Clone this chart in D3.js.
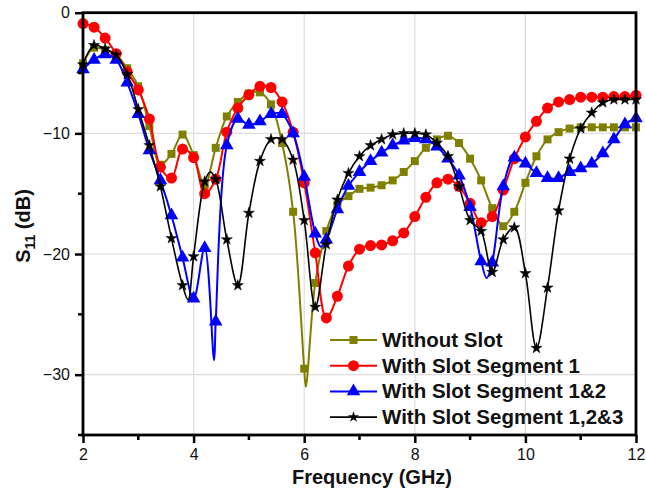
<!DOCTYPE html>
<html><head><meta charset="utf-8">
<script src="https://cdn.jsdelivr.net/npm/d3@7"></script>
<style>body{margin:0;background:#fff}svg{display:block}</style>
</head><body><svg id="c" width="646" height="500"></svg>
<script>
// ---- data ----
const xTicks = [2,4,6,8,10,12];
const yTicks = [0,-10,-20,-30];
const seriesNames = ["Without Slot","With Slot Segment 1","With Slot Segment 1&2","With Slot Segment 1,2&3"];
const seriesColors = ["#808000","#ff0000","#0000ff","#000000"];

const withoutSlotF = [2.0,2.2,2.4,2.6,2.8,3.0,3.2,3.4,3.6,3.8,4.0,4.2,4.4,4.6,4.8,5.0,5.2,5.4,5.6,5.8,6.0,6.03,6.2,6.4,6.6,6.8,7.0,7.2,7.4,7.6,7.8,8.0,8.2,8.4,8.6,8.8,9.0,9.2,9.4,9.6,9.8,10.0,10.2,10.4,10.6,10.8,11.0,11.2,11.4,11.6,11.8,12.0];
const withoutSlotV = [-4.2,-2.9,-3.1,-3.5,-4.6,-6.1,-9.4,-12.6,-11.7,-10.1,-11.8,-14.3,-11.2,-8.6,-7.4,-6.7,-6.6,-7.6,-10.8,-16.5,-29.5,-31.0,-22.4,-18.1,-15.9,-15.2,-14.6,-14.5,-14.3,-13.9,-13.2,-12.3,-11.2,-10.5,-10.2,-10.8,-12.1,-13.9,-16.2,-17.7,-16.5,-14.1,-11.9,-10.5,-9.9,-9.6,-9.5,-9.5,-9.5,-9.5,-9.5,-9.5];

const seg1F = [2.0,2.2,2.4,2.6,2.8,3.0,3.2,3.4,3.6,3.8,4.0,4.2,4.4,4.6,4.8,5.0,5.2,5.4,5.6,5.8,6.0,6.2,6.4,6.6,6.8,7.0,7.2,7.4,7.6,7.8,8.0,8.2,8.4,8.6,8.8,9.0,9.2,9.4,9.6,9.8,10.0,10.2,10.4,10.6,10.8,11.0,11.2,11.4,11.6,11.8,12.0];
const seg1V = [-0.9,-1.2,-2.1,-3.4,-4.9,-6.4,-8.8,-12.8,-13.7,-11.3,-12.0,-15.0,-13.8,-9.9,-7.9,-6.8,-6.1,-6.2,-7.4,-9.9,-14.1,-19.9,-25.3,-23.5,-21.0,-19.6,-19.3,-19.25,-18.9,-18.25,-16.9,-15.3,-14.1,-13.8,-14.4,-15.8,-17.4,-16.9,-14.7,-12.1,-10.3,-9.0,-7.9,-7.4,-7.2,-7.0,-7.0,-7.0,-6.95,-6.95,-6.85];

const seg12F = [2.0,2.2,2.4,2.6,2.8,3.0,3.2,3.4,3.6,3.8,4.0,4.2,4.37,4.4,4.6,4.8,5.0,5.2,5.4,5.6,5.8,6.0,6.2,6.3,6.4,6.6,6.8,7.0,7.2,7.4,7.6,7.8,8.0,8.2,8.4,8.6,8.8,9.0,9.2,9.3,9.4,9.6,9.8,10.0,10.2,10.4,10.6,10.8,11.0,11.2,11.4,11.6,11.8,12.0];
const seg12V = [-4.7,-3.9,-3.45,-3.9,-5.8,-8.4,-11.4,-13.9,-16.8,-20.3,-23.7,-19.5,-28.8,-25.6,-11.0,-8.8,-9.3,-9.0,-8.4,-8.4,-10.0,-13.6,-18.3,-19.4,-18.8,-16.3,-14.35,-13.2,-12.3,-11.6,-11.0,-10.6,-10.4,-10.5,-11.1,-12.1,-13.5,-16.1,-20.6,-22.0,-20.7,-14.4,-12.0,-12.5,-13.3,-13.7,-13.7,-13.2,-12.9,-12.5,-11.65,-10.5,-9.25,-8.75];

const seg123F = [2.0,2.2,2.4,2.6,2.8,3.0,3.2,3.4,3.6,3.8,3.9,4.0,4.2,4.3,4.4,4.6,4.8,5.0,5.2,5.4,5.6,5.8,6.0,6.2,6.4,6.6,6.8,7.0,7.2,7.4,7.6,7.8,8.0,8.2,8.4,8.6,8.8,9.0,9.2,9.4,9.6,9.8,10.0,10.2,10.4,10.6,10.8,11.0,11.2,11.4,11.6,11.8,12.0];
const seg123V = [-4.3,-2.7,-3.0,-3.5,-5.1,-8.0,-11.0,-14.4,-18.7,-22.6,-23.8,-20.2,-14.0,-13.2,-13.8,-18.8,-22.6,-16.6,-12.3,-10.5,-10.5,-12.2,-17.2,-24.4,-19.2,-15.5,-13.3,-11.9,-11.0,-10.5,-10.1,-10.0,-10.0,-10.1,-10.8,-11.9,-14.4,-17.2,-18.1,-21.5,-18.8,-17.8,-21.6,-27.8,-22.8,-16.4,-12.1,-9.6,-8.3,-7.45,-7.2,-7.2,-7.2];

// ---- chart ----
const svg = d3.select("#c");
const x = d3.scaleLinear().domain([2,12]).range([83,636]);
const y = d3.scaleLinear().domain([-35,0]).range([435,12.7]);

// grid
const g = svg.append("g");
g.selectAll("line.gx").data(xTicks.slice(1,-1)).join("line")
  .attr("x1",d=>x(d)).attr("x2",d=>x(d)).attr("y1",y(-35)).attr("y2",y(0))
  .attr("stroke","#dcdcdc").attr("stroke-width",1.2);
g.selectAll("line.gy").data(yTicks.slice(1)).join("line")
  .attr("x1",x(2)).attr("x2",x(12)).attr("y1",d=>y(d)).attr("y2",d=>y(d))
  .attr("stroke","#dcdcdc").attr("stroke-width",1.2);

const series = [
  {f:withoutSlotF, v:withoutSlotV, sym:d3.symbolSquare, size:64, w:2},
  {f:seg1F, v:seg1V, sym:d3.symbolCircle, size:95, w:2},
  {f:seg12F, v:seg12V, sym:d3.symbolTriangle, size:80, w:2},
  {f:seg123F, v:seg123V, sym:d3.symbolStar, size:38, w:1.6}
];
const line = d3.line().x(d=>x(d[0])).y(d=>y(d[1])).curve(d3.curveCatmullRom.alpha(0.5));
const plot = svg.append("g");
series.forEach((s,i)=>{
  const pts = s.f.map((f,j)=>[f,s.v[j]]);
  plot.append("path").attr("d",line(pts)).attr("fill","none")
    .attr("stroke",seriesColors[i]).attr("stroke-width",s.w);
  const mk = pts.filter(p=>Math.abs(p[0]*5-Math.round(p[0]*5))<1e-6);
  plot.selectAll(null).data(mk).join("path")
    .attr("transform",p=>`translate(${x(p[0])},${y(p[1])})`)
    .attr("d",d3.symbol(s.sym,s.size))
    .attr("fill",seriesColors[i]).attr("stroke",i===3?"#000":"none").attr("stroke-width",0.5);
});

// axes
const ax = svg.append("g").attr("transform",`translate(0,${y(-35)})`)
  .call(d3.axisBottom(x).tickValues(xTicks).tickSize(8).tickPadding(6).tickFormat(d3.format("d")));
ax.selectAll(".tick text").attr("font-size",16).attr("font-family","Liberation Sans, Arial, sans-serif").attr("fill","#111");
ax.selectAll(".tick line").attr("stroke-width",2.5);
ax.select(".domain").remove();
svg.append("g").attr("transform",`translate(0,${y(-35)})`)
  .selectAll("line").data([3,5,7,9,11]).join("line")
  .attr("x1",d=>x(d)).attr("x2",d=>x(d)).attr("y1",0).attr("y2",5)
  .attr("stroke","#000").attr("stroke-width",2.5);

const ay = svg.append("g").attr("transform",`translate(${x(2)},0)`)
  .call(d3.axisLeft(y).tickValues(yTicks).tickSize(8).tickPadding(5).tickFormat(d3.format("d")));
ay.selectAll(".tick text").attr("font-size",16).attr("font-family","Liberation Sans, Arial, sans-serif").attr("fill","#111");
ay.selectAll(".tick line").attr("stroke-width",2.5);
ay.select(".domain").remove();
svg.append("g").attr("transform",`translate(${x(2)},0)`)
  .selectAll("line").data([-5,-15,-25,-35]).join("line")
  .attr("x1",0).attr("x2",-5).attr("y1",d=>y(d)).attr("y2",d=>y(d))
  .attr("stroke","#000").attr("stroke-width",2.5);

// frame
svg.append("rect").attr("x",x(2)).attr("y",y(0)).attr("width",x(12)-x(2)).attr("height",y(-35)-y(0))
  .attr("fill","none").attr("stroke","#000").attr("stroke-width",2.8);

// legend
const lg = svg.append("g");
seriesNames.forEach((n,i)=>{
  const yy = 340 + i*25.7;
  lg.append("line").attr("x1",330).attr("x2",377).attr("y1",yy).attr("y2",yy)
    .attr("stroke",seriesColors[i]).attr("stroke-width",series[i].w);
  lg.append("path").attr("transform",`translate(353.5,${yy})`).attr("d",d3.symbol(series[i].sym,series[i].size))
    .attr("fill",seriesColors[i]);
  lg.append("text").attr("x",382).attr("y",yy+7).text(n)
    .attr("font-family","Liberation Sans, Arial, sans-serif").attr("font-weight","bold").attr("font-size",20.5).attr("fill","#111");
});

// axis titles
svg.append("text").attr("x",372).attr("y",484).attr("text-anchor","middle")
  .attr("font-family","Liberation Sans, Arial, sans-serif").attr("font-weight","bold").attr("font-size",20).attr("fill","#111")
  .text("Frequency (GHz)");
const yt = svg.append("text").attr("transform","translate(30,226) rotate(-90)").attr("text-anchor","middle")
  .attr("font-family","Liberation Sans, Arial, sans-serif").attr("font-weight","bold").attr("font-size",20).attr("fill","#111");
yt.append("tspan").text("S");
yt.append("tspan").attr("font-size",14).attr("dy",5).text("11");
yt.append("tspan").attr("dy",-5).text(" (dB)");
</script></body></html>
